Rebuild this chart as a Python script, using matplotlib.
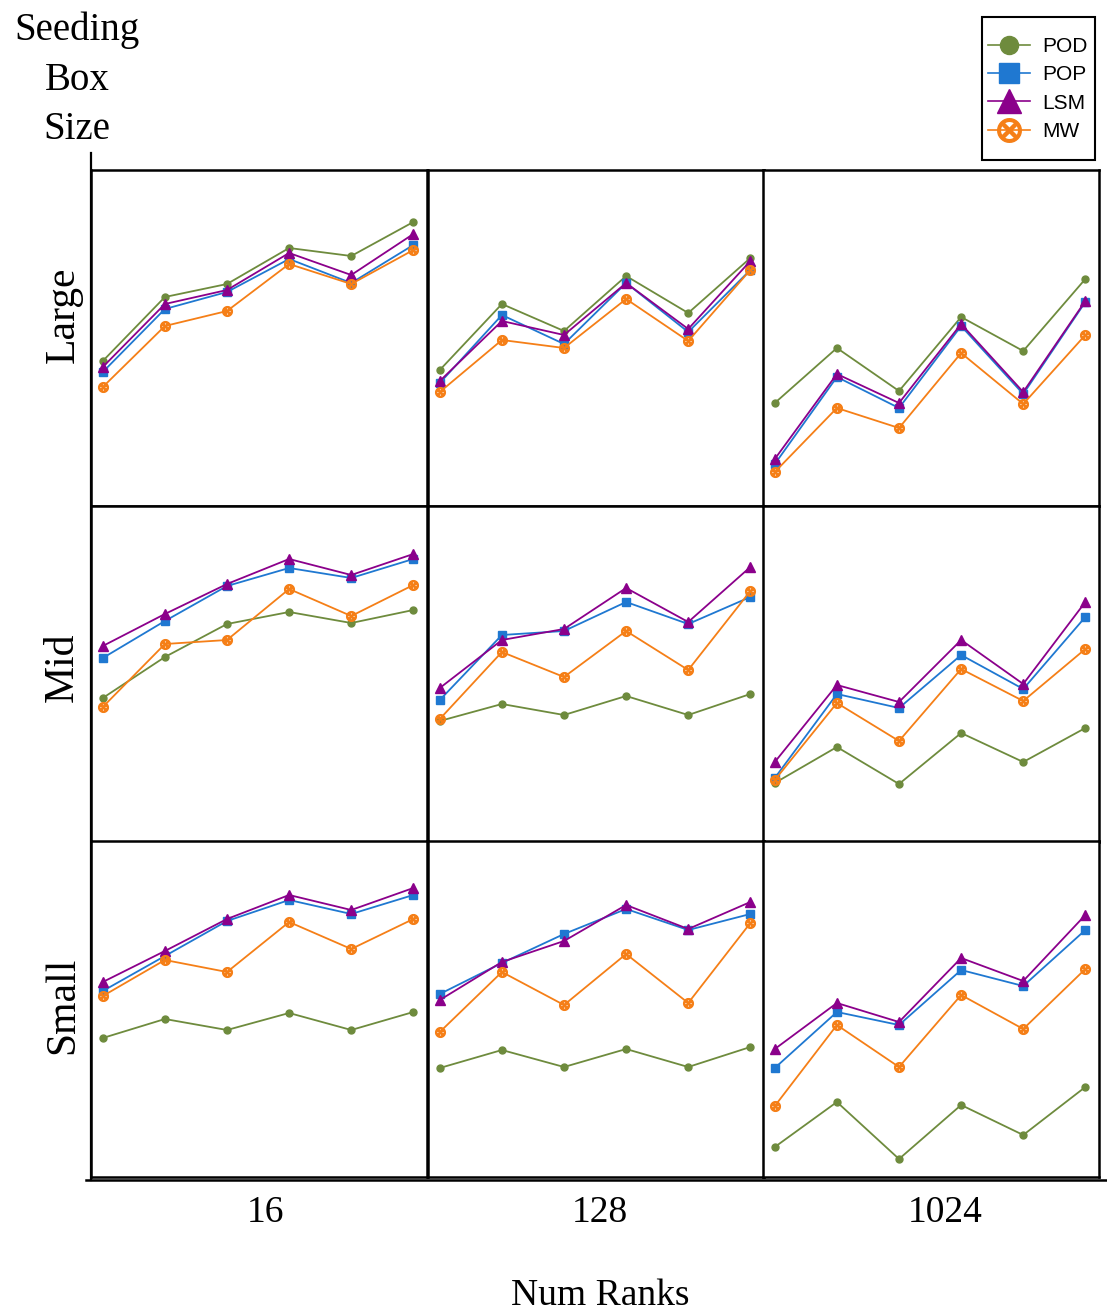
import matplotlib
matplotlib.use("Agg")
import matplotlib.pyplot as plt
from matplotlib.lines import Line2D
from matplotlib.patches import Rectangle

W, H = 1107, 1315

# panel rows (seeding box size) and columns (num ranks)
box_sizes = ["Large", "Mid", "Small"]
num_ranks = ["16", "128", "1024"]
series = ["POD", "POP", "LSM", "MW"]

# values, [row][col][6 points]
pod = [
    [[145, 209, 222, 258, 250, 284], [136, 202, 175, 230, 193, 248], [103, 158, 115, 189, 155, 227]],
    [[144, 185, 218, 230, 219, 232], [121, 138, 127, 146, 127, 148], [59, 95, 58, 109, 80, 114]],
    [[139, 158, 147, 164, 147, 165], [109, 127, 110, 128, 110, 130], [30, 75, 18, 72, 42, 90]],
]
pop = [
    [[134, 197, 214, 247, 223, 261], [123, 191, 162, 223, 174, 236], [42, 129, 98, 180, 112, 204]],
    [[184, 221, 256, 274, 264, 283], [142, 207, 211, 240, 218, 245], [64, 148, 134, 187, 153, 225]],
    [[186, 221, 256, 277, 263, 282], [183, 214, 243, 268, 247, 263], [109, 165, 152, 207, 191, 247]],
]
lsm = [
    [[139, 202, 216, 253, 231, 272], [125, 185, 171, 223, 177, 245], [47, 132, 103, 182, 114, 205]],
    [[196, 228, 258, 283, 267, 288], [154, 202, 213, 254, 220, 275], [80, 157, 140, 202, 158, 240]],
    [[195, 226, 258, 282, 267, 289], [177, 215, 236, 272, 248, 275], [128, 174, 155, 219, 196, 262]],
]
mw = [
    [[119, 180, 195, 242, 222, 256], [114, 166, 158, 207, 165, 236], [34, 98, 78, 153, 102, 171]],
    [[135, 198, 202, 253, 226, 257], [123, 190, 165, 211, 172, 251], [62, 139, 101, 173, 141, 193]],
    [[181, 217, 205, 255, 228, 258], [145, 205, 172, 223, 174, 254], [71, 152, 110, 182, 148, 208]],
]

colors = {"POD": "#6e8b3d", "POP": "#1f78d1", "LSM": "#8b008b", "MW": "#f57f17"}
markers = {"POD": "o", "POP": "s", "LSM": "^", "MW": r"$\otimes$"}
msizes = {"POD": 5, "POP": 5.5, "LSM": 6.5, "MW": 7}
data = {"POD": pod, "POP": pop, "LSM": lsm, "MW": mw}

serif = "Liberation Serif"

fig = plt.figure(figsize=(W / 100, H / 100), dpi=100)

col_left = [91, 428, 763]
row_top = [170, 506, 841]
pw, ph = 336, 336

for r in range(3):
    for c in range(3):
        x0 = col_left[c] / W
        y0 = 1 - (row_top[r] + ph) / H
        ax = fig.add_axes([x0, y0, pw / W, ph / H])
        xs = list(range(6))
        for s in series:
            ax.plot(xs, data[s][r][c], color=colors[s], marker=markers[s],
                    markersize=msizes[s], linewidth=1.3)
        ax.set_xlim(-0.19, 5.22)
        ax.set_ylim(0, 336)
        ax.set_xticks([])
        ax.set_yticks([])
        for sp in ax.spines.values():
            sp.set_linewidth(1.8)
            sp.set_color("black")

# outer axis lines
fig.add_artist(Line2D([86 / W, 1107 / W], [1 - 1180 / H, 1 - 1180 / H], color="black", linewidth=1.8))
fig.add_artist(Line2D([91 / W, 91 / W], [1 - 153 / H, 1 - 1180 / H], color="black", linewidth=1.6))

# row labels
row_y = [315, 667, 1005]
for lab, yy in zip(box_sizes, row_y):
    fig.text(63 / W, 1 - yy / H, lab, rotation=90, ha="center", va="center",
             fontsize=30, family=serif)

# column labels
col_x = [266, 600, 945]
for lab, xx in zip(num_ranks, col_x):
    fig.text(xx / W, 1 - 1213 / H, lab, ha="center", va="center", fontsize=27, family=serif)

fig.text(600 / W, 1 - 1296 / H, "Num Ranks", ha="center", va="center", fontsize=27, family=serif)
fig.text(77 / W, 1 - 80 / H, "Seeding\nBox\nSize", ha="center", va="center",
         fontsize=28, family=serif, linespacing=1.45)

# legend box drawn separately so it can be taller than the entries need
fig.add_artist(Rectangle((982 / W, 1 - 160 / H), 113 / W, 143 / H, transform=fig.transFigure,
                         facecolor="white", edgecolor="black", linewidth=1.5, zorder=3))
handles = [Line2D([], [], color=colors[s], marker=markers[s], linewidth=1.2,
                  markersize=msizes[s] * 2.6 if s != "MW" else 17) for s in series]
leg = fig.legend(handles, series, loc="center",
                 bbox_to_anchor=(1038 / W, 1 - 89 / H), borderaxespad=0,
                 frameon=False, prop={"family": "Liberation Sans", "size": 15},
                 handlelength=2.0, labelspacing=0.45, handletextpad=0.6,
                 borderpad=0.2)
leg.set_zorder(4)

fig.savefig("out.png", dpi=100)
